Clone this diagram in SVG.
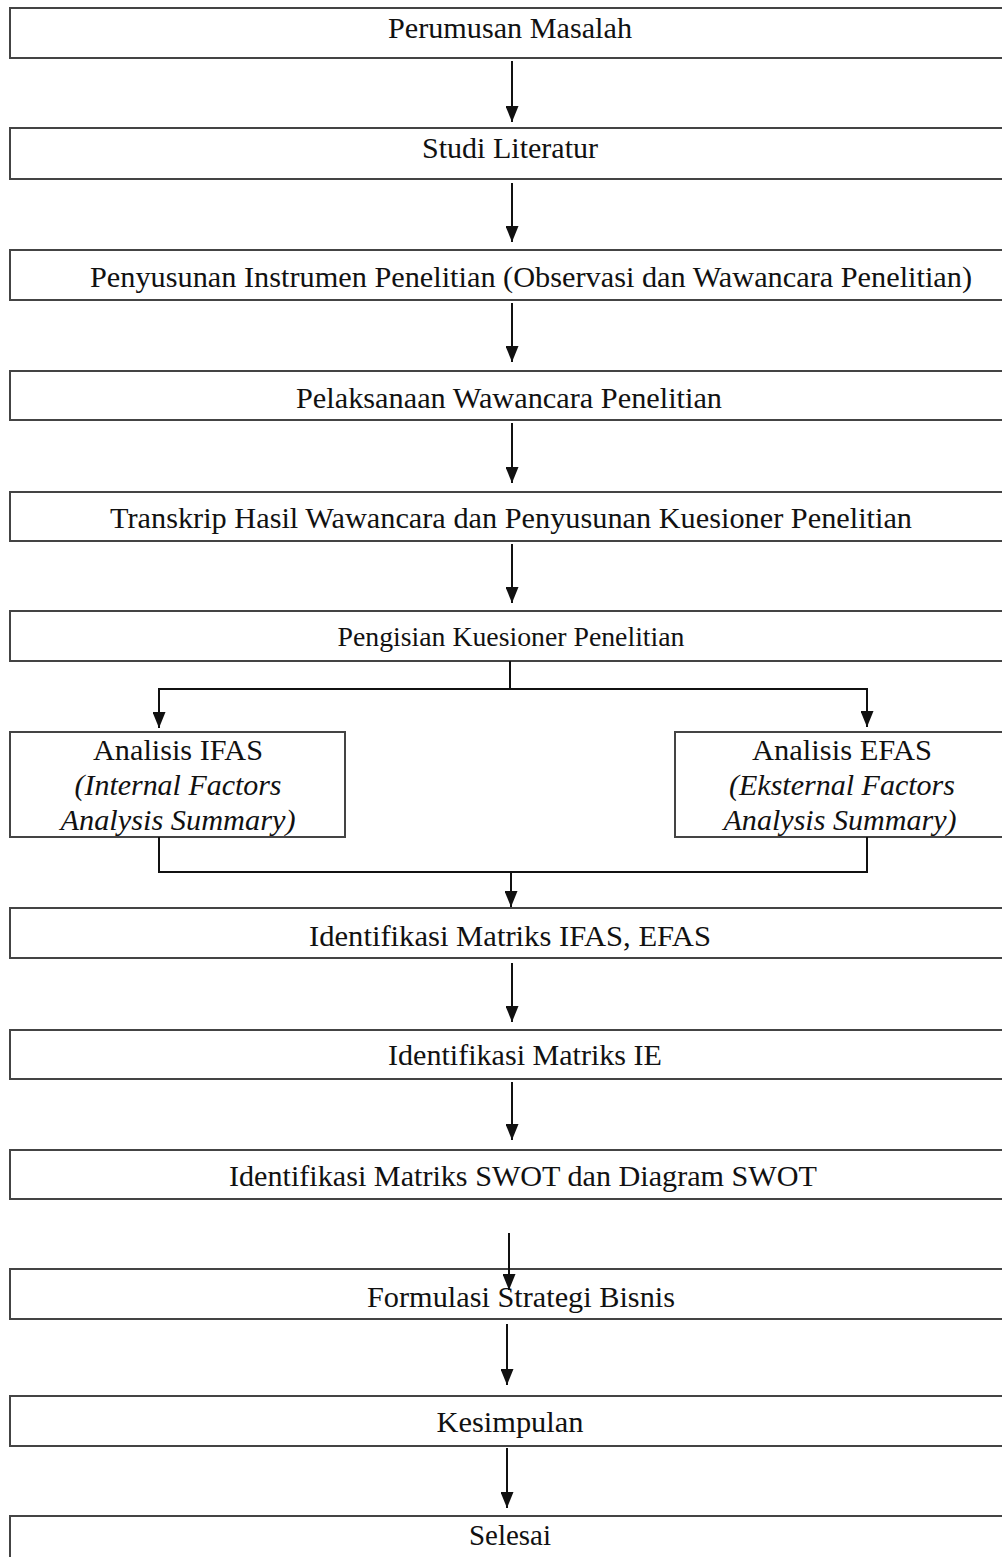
<svg xmlns="http://www.w3.org/2000/svg" width="1002" height="1557" viewBox="0 0 1002 1557">
<style>
.box{fill:#fff;stroke:#444;stroke-width:2}
.t{font-family:'Liberation Serif','Times New Roman',Times,serif;font-size:30px;fill:#111;text-anchor:middle}
.s{font-size:27px}
.i{font-style:italic}
.c{fill:none;stroke:#111;stroke-width:2}
</style>
<defs>
<marker id="ah" markerUnits="userSpaceOnUse" markerWidth="16" markerHeight="13" refX="16" refY="6.5" orient="auto">
<path d="M0,0 L16,6.5 L0,13 z" fill="#111"/>
</marker>
</defs>
<rect width="1002" height="1557" fill="#fff"/>
<g font-family="Liberation Serif, serif">
<g id="n1"><rect class="box" x="10" y="8" width="1000" height="50"/><text class="t" x="510" y="38" textLength="244" lengthAdjust="spacingAndGlyphs">Perumusan Masalah</text></g>
<g id="n2"><rect class="box" x="10" y="128" width="1000" height="51"/><text class="t" x="510" y="158" textLength="176" lengthAdjust="spacingAndGlyphs">Studi Literatur</text></g>
<g id="n3"><rect class="box" x="10" y="250" width="1000" height="50"/><text class="t" x="531" y="287" textLength="882" lengthAdjust="spacingAndGlyphs">Penyusunan Instrumen Penelitian (Observasi dan Wawancara Penelitian)</text></g>
<g id="n4"><rect class="box" x="10" y="371" width="1000" height="49"/><text class="t" x="509" y="408" textLength="426" lengthAdjust="spacingAndGlyphs">Pelaksanaan Wawancara Penelitian</text></g>
<g id="n5"><rect class="box" x="10" y="492" width="1000" height="49"/><text class="t" x="511" y="528" textLength="802" lengthAdjust="spacingAndGlyphs">Transkrip Hasil Wawancara dan Penyusunan Kuesioner Penelitian</text></g>
<g id="n6"><rect class="box" x="10" y="611" width="1000" height="50"/><text class="t s" x="511" y="646" textLength="347" lengthAdjust="spacingAndGlyphs">Pengisian Kuesioner Penelitian</text></g>
<g id="n7"><rect class="box" x="10" y="732" width="335" height="105"/>
<text class="t" x="178" y="760" textLength="170" lengthAdjust="spacingAndGlyphs">Analisis IFAS</text>
<text class="t i" x="178" y="795" textLength="207" lengthAdjust="spacingAndGlyphs">(Internal Factors</text>
<text class="t i" x="178" y="830" textLength="235" lengthAdjust="spacingAndGlyphs">Analysis Summary)</text></g>
<g id="n8"><rect class="box" x="675" y="732" width="335" height="105"/>
<text class="t" x="842" y="760" textLength="180" lengthAdjust="spacingAndGlyphs">Analisis EFAS</text>
<text class="t i" x="842" y="795" textLength="226" lengthAdjust="spacingAndGlyphs">(Eksternal Factors</text>
<text class="t i" x="840" y="830" textLength="233" lengthAdjust="spacingAndGlyphs">Analysis Summary)</text></g>
<g id="n9"><rect class="box" x="10" y="908" width="1000" height="50"/><text class="t" x="510" y="946" textLength="402" lengthAdjust="spacingAndGlyphs">Identifikasi Matriks IFAS, EFAS</text></g>
<g id="n10"><rect class="box" x="10" y="1030" width="1000" height="49"/><text class="t" x="525" y="1065" textLength="274" lengthAdjust="spacingAndGlyphs">Identifikasi Matriks IE</text></g>
<g id="n11"><rect class="box" x="10" y="1150" width="1000" height="49"/><text class="t" x="523" y="1186" textLength="588" lengthAdjust="spacingAndGlyphs">Identifikasi Matriks SWOT dan Diagram SWOT</text></g>
<g id="n12"><rect class="box" x="10" y="1269" width="1000" height="50"/><text class="t" x="521" y="1307" textLength="308" lengthAdjust="spacingAndGlyphs">Formulasi Strategi Bisnis</text></g>
<g id="n13"><rect class="box" x="10" y="1396" width="1000" height="50"/><text class="t" x="510" y="1432" textLength="147" lengthAdjust="spacingAndGlyphs">Kesimpulan</text></g>
<g id="n14"><rect class="box" x="10" y="1516" width="1000" height="50"/><text class="t" x="510" y="1545" textLength="82" lengthAdjust="spacingAndGlyphs">Selesai</text></g>
</g>
<g id="connectors">
<line class="c" x1="512" y1="61" x2="512" y2="122" marker-end="url(#ah)"/>
<line class="c" x1="512" y1="183" x2="512" y2="242" marker-end="url(#ah)"/>
<line class="c" x1="512" y1="303" x2="512" y2="362" marker-end="url(#ah)"/>
<line class="c" x1="512" y1="423" x2="512" y2="483" marker-end="url(#ah)"/>
<line class="c" x1="512" y1="544" x2="512" y2="603" marker-end="url(#ah)"/>
<polyline class="c" points="510,661 510,689"/>
<polyline class="c" points="510,689 159,689 159,728" marker-end="url(#ah)"/>
<polyline class="c" points="510,689 867,689 867,727" marker-end="url(#ah)"/>
<polyline class="c" points="159,837 159,872 867,872 867,837"/>
<line class="c" x1="511" y1="872" x2="511" y2="907" marker-end="url(#ah)"/>
<line class="c" x1="512" y1="963" x2="512" y2="1022" marker-end="url(#ah)"/>
<line class="c" x1="512" y1="1082" x2="512" y2="1140" marker-end="url(#ah)"/>
<line class="c" x1="509" y1="1233" x2="509" y2="1290" marker-end="url(#ah)"/>
<line class="c" x1="507" y1="1324" x2="507" y2="1385" marker-end="url(#ah)"/>
<line class="c" x1="507" y1="1448" x2="507" y2="1508" marker-end="url(#ah)"/>
</g>
</svg>
